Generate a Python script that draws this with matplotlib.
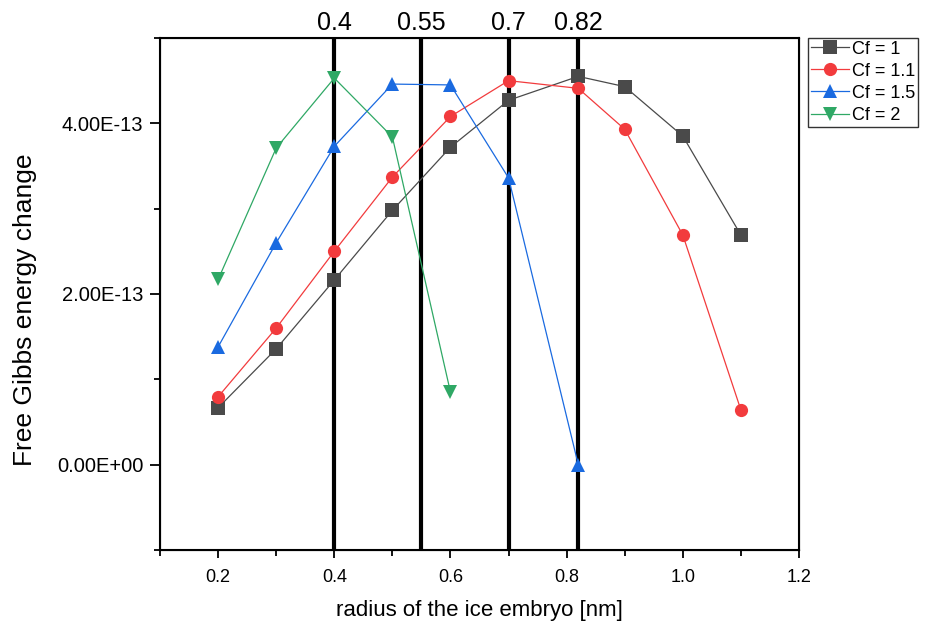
import matplotlib.pyplot as plt
from matplotlib.ticker import FuncFormatter, FixedLocator

plt.rcParams['font.family'] = ['Liberation Sans', 'DejaVu Sans']

# radius values [nm]
r_cf1 = [0.2, 0.3, 0.4, 0.5, 0.6, 0.7, 0.82, 0.9, 1.0, 1.1]
r_cf11 = [0.2, 0.3, 0.4, 0.5, 0.6, 0.7, 0.82, 0.9, 1.0, 1.1]
r_cf15 = [0.2, 0.3, 0.4, 0.5, 0.6, 0.7, 0.82]
r_cf2 = [0.2, 0.3, 0.4, 0.5, 0.6]

# free Gibbs energy change (x1e-13)
g_cf1 = [0.667, 1.357, 2.164, 2.98, 3.72, 4.27, 4.55, 4.43, 3.85, 2.69]
g_cf11 = [0.795, 1.60, 2.50, 3.37, 4.08, 4.50, 4.41, 3.93, 2.69, 0.64]
g_cf15 = [1.38, 2.60, 3.73, 4.46, 4.45, 3.36, 0.0]
g_cf2 = [2.17, 3.71, 4.53, 3.84, 0.85]

critical_r = [0.4, 0.55, 0.7, 0.82]
critical_labels = ['0.4', '0.55', '0.7', '0.82']

x_major = [0.2, 0.4, 0.6, 0.8, 1.0, 1.2]
x_minor = [0.1, 0.3, 0.5, 0.7, 0.9, 1.1]
y_major = [0.0, 2e-13, 4e-13]
y_minor = [-1e-13, 1e-13, 3e-13, 5e-13]

series = [
    (r_cf1, g_cf1, 'Cf = 1', '#4a4a4a', 's'),
    (r_cf11, g_cf11, 'Cf = 1.1', '#f23b3d', 'o'),
    (r_cf15, g_cf15, 'Cf = 1.5', '#1a6ae0', '^'),
    (r_cf2, g_cf2, 'Cf = 2', '#2fa865', 'v'),
]

fig = plt.figure(figsize=(9.25, 6.3), dpi=100)
ax = fig.add_axes([0.173, 0.127, 0.6908, 0.8127])

for xr in critical_r:
    ax.axvline(xr, color='black', lw=3, zorder=1)

for r, g, lab, col, mk in series:
    ax.plot(r, [v * 1e-13 for v in g], color=col, lw=0.9, marker=mk,
            markersize=9.5, markeredgewidth=0, label=lab, zorder=3)

ax.set_xlim(0.1, 1.2)
ax.set_ylim(-1e-13, 5e-13)
ax.xaxis.set_major_locator(FixedLocator(x_major))
ax.xaxis.set_minor_locator(FixedLocator(x_minor))
ax.yaxis.set_major_locator(FixedLocator(y_major))
ax.yaxis.set_minor_locator(FixedLocator(y_minor))
ax.yaxis.set_major_formatter(FuncFormatter(lambda v, p: f"{v:.2E}"))
ax.xaxis.set_major_formatter(FuncFormatter(lambda v, p: f"{v:.1f}"))

ax.tick_params(which='major', direction='out', length=6, width=1.3,
               top=False, right=False)
ax.tick_params(which='minor', direction='out', length=4, width=1.3,
               top=False, right=False)
ax.tick_params(axis='x', labelsize=13, pad=8)
ax.tick_params(axis='y', which='major', labelsize=14.5, length=7, pad=5)
for s in ax.spines.values():
    s.set_linewidth(1.5)

ax.set_xlabel('radius of the ice embryo [nm]', fontsize=16, labelpad=10)
ax.set_ylabel('Free Gibbs energy change', fontsize=19)
ax.yaxis.set_label_coords(-0.192, 0.469)

top = ax.twiny()
top.set_xlim(ax.get_xlim())
top.set_xticks(critical_r)
top.set_xticklabels(critical_labels)
top.tick_params(direction='in', length=6, width=1.5, labelsize=18, pad=2)
top.xaxis.set_minor_locator(plt.NullLocator())

leg = ax.legend(loc='upper left', bbox_to_anchor=(1.014, 1.0), fontsize=13,
                frameon=True, fancybox=False, edgecolor='black',
                borderpad=0.15, labelspacing=0.28, handlelength=2.1,
                handletextpad=0.2, borderaxespad=0)
leg.get_frame().set_linewidth(1.0)

fig.savefig('out.png', dpi=100)
